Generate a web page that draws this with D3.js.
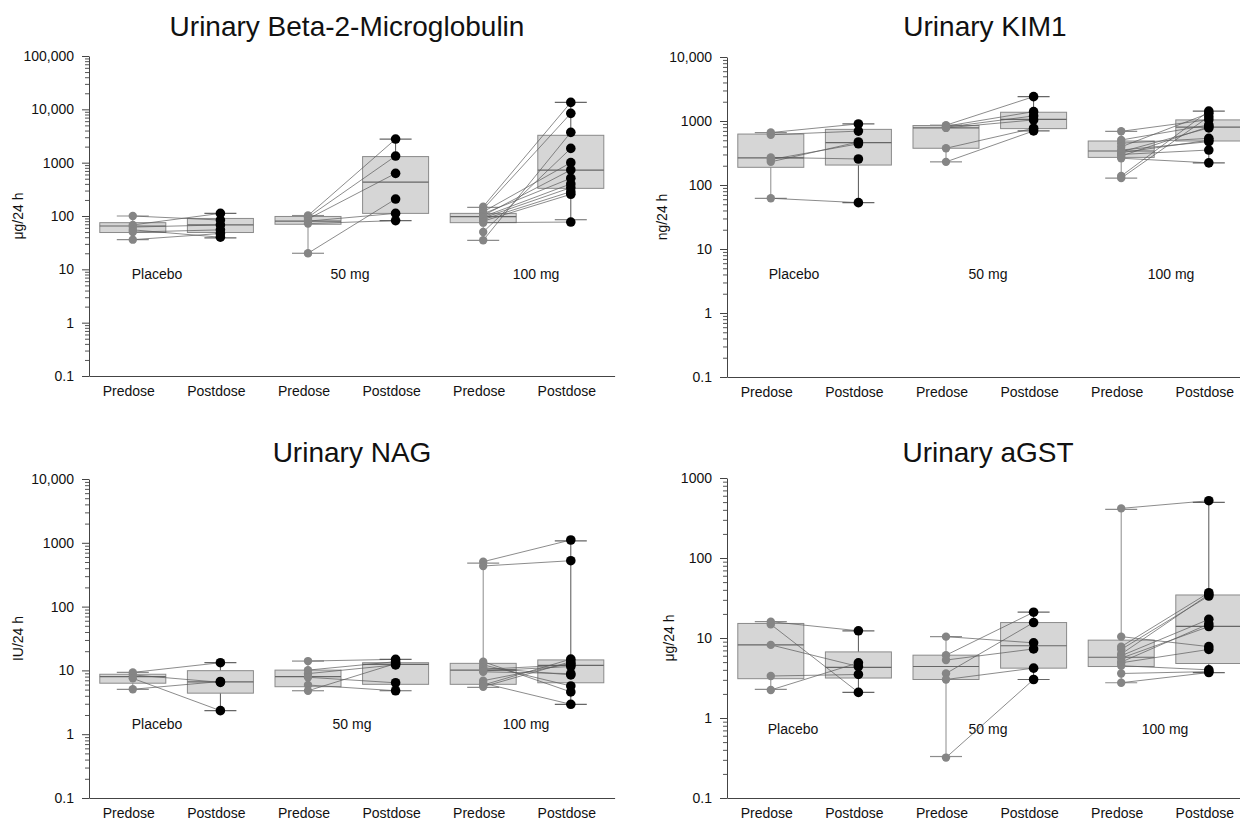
<!DOCTYPE html>
<html>
<head>
<meta charset="utf-8">
<script src="https://cdn.jsdelivr.net/npm/d3@7"></script>
<style>
  body { margin: 0; background: #fff; }
  svg { font-family: "Liberation Sans", Arial, sans-serif; }
</style>
</head>
<body>
<svg id="chart" width="1240" height="821"></svg>
<script>
// categories
const phases = ["Predose", "Postdose"];
const groups = ["Placebo", "50 mg", "100 mg"];

// Urinary Beta-2-Microglobulin (ug/24 h)
const b2mPre = [
  [100, 68, 62, 55, 50, 36],
  [102, 95, 88, 80, 72, 20],
  [150, 135, 120, 110, 102, 97, 92, 86, 80, 75, 50, 35]
];
const b2mPost = [
  [84, 112, 68, 40, 55, 47],
  [2770, 1330, 630, 112, 82, 208],
  [13500, 8400, 1000, 510, 730, 400, 340, 286, 255, 77, 1850, 3700]
];
// [whisker low, q1, median, q3, whisker high] for each box
const b2mBoxes = [
  [36, 49, 65, 75, 100], [39, 49, 68, 90, 112],
  [20, 70, 80, 98, 102], [82, 112, 430, 1300, 2770],
  [35, 75, 97, 112, 145], [85, 330, 725, 3260, 13500]
];
const b2mTicks = ["0.1", "1", "10", "100", "1000", "10,000", "100,000"];

// Urinary KIM1 (ng/24 h)
const kimPre = [
  [660, 610, 270, 250, 230, 62],
  [860, 830, 800, 780, 375, 230],
  [690, 505, 450, 395, 352, 330, 320, 300, 283, 262, 138, 128]
];
const kimPost = [
  [900, 695, 255, 440, 470, 53],
  [2400, 1400, 1200, 1040, 770, 700],
  [1050, 866, 536, 1320, 475, 780, 500, 352, 815, 222, 1430, 1170]
];
const kimBoxes = [
  [62, 189, 265, 625, 660], [53, 205, 460, 740, 900],
  [230, 375, 780, 850, 860], [700, 760, 1060, 1370, 2400],
  [128, 270, 340, 487, 690], [222, 487, 800, 1040, 1430]
];
const kimTicks = ["0.1", "1", "10", "100", "1000", "10,000"];

// Urinary NAG (IU/24 h)
const nagPre = [
  [9.3, 8.5, 7.5, 5.06],
  [14, 10.1, 8.9, 7.8, 5.9, 4.8],
  [506, 433, 13.7, 12.2, 11, 10.4, 9.8, 9.5, 6.9, 6.3, 5.9, 5.55]
];
const nagPost = [
  [13.2, 6.5, 2.34, 6.7],
  [14.9, 13.7, 12.2, 6.4, 4.8, 12.8],
  [1107, 524, 4.6, 5.7, 8.5, 12.2, 11.5, 8.9, 12.8, 2.94, 15, 13.7]
];
const nagBoxes = [
  [5.06, 6.3, 8.0, 8.7, 9.3], [2.34, 4.4, 6.6, 9.9, 13.2],
  [4.8, 5.55, 8.0, 10.1, 14], [4.8, 6.05, 12.4, 13.2, 14.9],
  [5.4, 6.05, 10.1, 12.9, 480], [2.94, 6.4, 12.0, 14.6, 1070]
];
const nagTicks = ["0.1", "1", "10", "100", "1000", "10,000"];

// Urinary aGST (ug/24 h)
const gstPre = [
  [16, 14.8, 8.2, 3.35, 2.24],
  [10.4, 6.1, 5.3, 3.6, 3.03, 0.32],
  [417, 10.4, 7.8, 7.2, 6.3, 6.0, 5.6, 5.0, 4.9, 4.5, 3.6, 2.76]
];
const gstPost = [
  [12.3, 2.09, 4.4, 3.5, 4.9],
  [8.7, 21, 7.3, 15.6, 4.2, 3.03],
  [520, 7.8, 36.8, 33.5, 35, 17.1, 13.9, 15, 7.2, 4.0, 3.8, 3.7]
];
const gstBoxes = [
  [2.28, 3.1, 8.2, 15.2, 16], [2.09, 3.16, 4.3, 6.7, 12.3],
  [0.33, 3.03, 4.4, 6.1, 10.4], [3.03, 4.2, 8.0, 15.6, 21],
  [2.76, 4.4, 5.75, 9.4, 405], [3.7, 4.8, 14, 34.5, 497]
];
const gstTicks = ["0.1", "1", "10", "100", "1000"];

const panels = [
  { title: "Urinary Beta-2-Microglobulin", unit: "\u03bcg/24 h", pre: b2mPre, post: b2mPost, boxes: b2mBoxes, ticks: b2mTicks,
    x0: 89, top: 56, bottom: 376, titleX: 347, titleY: 36, unitX: 18, labelX: [157, 350, 536], labelY: 279 },
  { title: "Urinary KIM1", unit: "ng/24 h", pre: kimPre, post: kimPost, boxes: kimBoxes, ticks: kimTicks,
    x0: 727, top: 57, bottom: 377, titleX: 985, titleY: 36, unitX: 662, labelX: [794, 988, 1171], labelY: 279 },
  { title: "Urinary NAG", unit: "IU/24 h", pre: nagPre, post: nagPost, boxes: nagBoxes, ticks: nagTicks,
    x0: 89, top: 479, bottom: 798, titleX: 352, titleY: 462, unitX: 18, labelX: [157, 352, 526], labelY: 729 },
  { title: "Urinary aGST", unit: "\u03bcg/24 h", pre: gstPre, post: gstPost, boxes: gstBoxes, ticks: gstTicks,
    x0: 727, top: 478, bottom: 798, titleX: 988, titleY: 462, unitX: 669, labelX: [793, 988, 1165], labelY: 734 }
];

const svg = d3.select("#chart");
const step = 87.6;
const boxW = 66;
const capW = 32;
const fs = "14px";

panels.forEach(p => {
  const g = svg.append("g");
  const maxV = Math.pow(10, p.ticks.length - 2);
  const majors = d3.range(p.ticks.length).map(i => Math.pow(10, i - 1));
  const minors = [];
  majors.slice(0, -1).forEach(d => { for (let k = 2; k < 10; k++) minors.push(d * k); });

  const x = d3.scaleBand().domain(d3.range(6)).range([p.x0, p.x0 + 6 * step]);
  const y = d3.scaleLog().domain([0.1, maxV]).range([p.bottom, p.top]);
  const cx = i => x(i) + x.bandwidth() / 2;

  // title
  g.append("text")
    .attr("x", p.titleX).attr("y", p.titleY)
    .attr("text-anchor", "middle")
    .style("font-size", "28px").attr("fill", "#111")
    .text(p.title);

  // y axis
  const yAxis = g.append("g").attr("transform", `translate(${p.x0},0)`)
    .call(d3.axisLeft(y).tickValues(majors).tickFormat((d, i) => p.ticks[i]).tickSize(7).tickSizeOuter(0).tickPadding(8));
  yAxis.select(".domain").attr("stroke", "#444");
  yAxis.selectAll(".tick line").attr("stroke", "#444");
  yAxis.selectAll("text").style("font-size", fs).attr("fill", "#111");

  g.append("g").attr("transform", `translate(${p.x0},0)`)
    .call(d3.axisLeft(y).tickValues(minors).tickFormat("").tickSize(4).tickSizeOuter(0))
    .call(a => a.select(".domain").remove())
    .selectAll(".tick line").attr("stroke", "#555");

  // x axis
  const xAxis = g.append("g").attr("transform", `translate(0,${p.bottom})`)
    .call(d3.axisBottom(x).tickFormat(i => phases[i % 2]).tickSize(0).tickSizeOuter(0).tickPadding(10));
  xAxis.select(".domain").attr("stroke", "#444");
  xAxis.selectAll("text").style("font-size", fs).attr("fill", "#111").attr("dx", "-4");

  // unit label
  g.append("text")
    .attr("transform", `translate(${p.unitX},${(p.top + p.bottom) / 2}) rotate(-90)`)
    .attr("text-anchor", "middle").attr("dy", "0.35em")
    .style("font-size", fs).attr("fill", "#111")
    .text(p.unit);

  // group labels
  g.selectAll(".grp").data(groups).join("text")
    .attr("x", (d, i) => p.labelX[i]).attr("y", p.labelY)
    .attr("text-anchor", "middle")
    .style("font-size", fs).attr("fill", "#111")
    .text(d => d);

  // boxes
  const bx = g.selectAll(".box").data(p.boxes).join("g");
  bx.append("line")
    .attr("x1", (d, i) => cx(i)).attr("x2", (d, i) => cx(i))
    .attr("y1", d => y(d[0])).attr("y2", d => y(d[4]))
    .attr("stroke", (d, i) => i % 2 ? "#555" : "#8c8c8c").attr("stroke-width", 1);
  bx.append("rect")
    .attr("x", (d, i) => cx(i) - boxW / 2).attr("width", boxW)
    .attr("y", d => y(d[3])).attr("height", d => y(d[1]) - y(d[3]))
    .attr("fill", "#d6d6d6").attr("stroke", "#8a8a8a").attr("stroke-width", 1);
  bx.append("line")
    .attr("x1", (d, i) => cx(i) - boxW / 2).attr("x2", (d, i) => cx(i) + boxW / 2)
    .attr("y1", d => y(d[2])).attr("y2", d => y(d[2]))
    .attr("stroke", "#666").attr("stroke-width", 1.2);
  [0, 4].forEach(k => {
    bx.append("line")
      .attr("x1", (d, i) => cx(i) - capW / 2).attr("x2", (d, i) => cx(i) + capW / 2)
      .attr("y1", d => y(d[k])).attr("y2", d => y(d[k]))
      .attr("stroke", (d, i) => i % 2 ? "#666" : "#8c8c8c").attr("stroke-width", 1.2);
  });

  // paired lines and points
  groups.forEach((grp, gi) => {
    const xa = cx(gi * 2), xb = cx(gi * 2 + 1);
    const pairs = p.pre[gi].map((v, k) => [v, p.post[gi][k]]);
    g.selectAll(null).data(pairs).join("line")
      .attr("x1", xa).attr("x2", xb)
      .attr("y1", d => y(d[0])).attr("y2", d => y(d[1]))
      .attr("stroke", "#5a5a5a").attr("stroke-width", 0.7);
    g.selectAll(null).data(p.pre[gi]).join("circle")
      .attr("cx", xa).attr("cy", d => y(d)).attr("r", 4.2)
      .attr("fill", "#858585");
    g.selectAll(null).data(p.post[gi]).join("circle")
      .attr("cx", xb).attr("cy", d => y(d)).attr("r", 4.8)
      .attr("fill", "#000");
  });
});
</script>
</body>
</html>
